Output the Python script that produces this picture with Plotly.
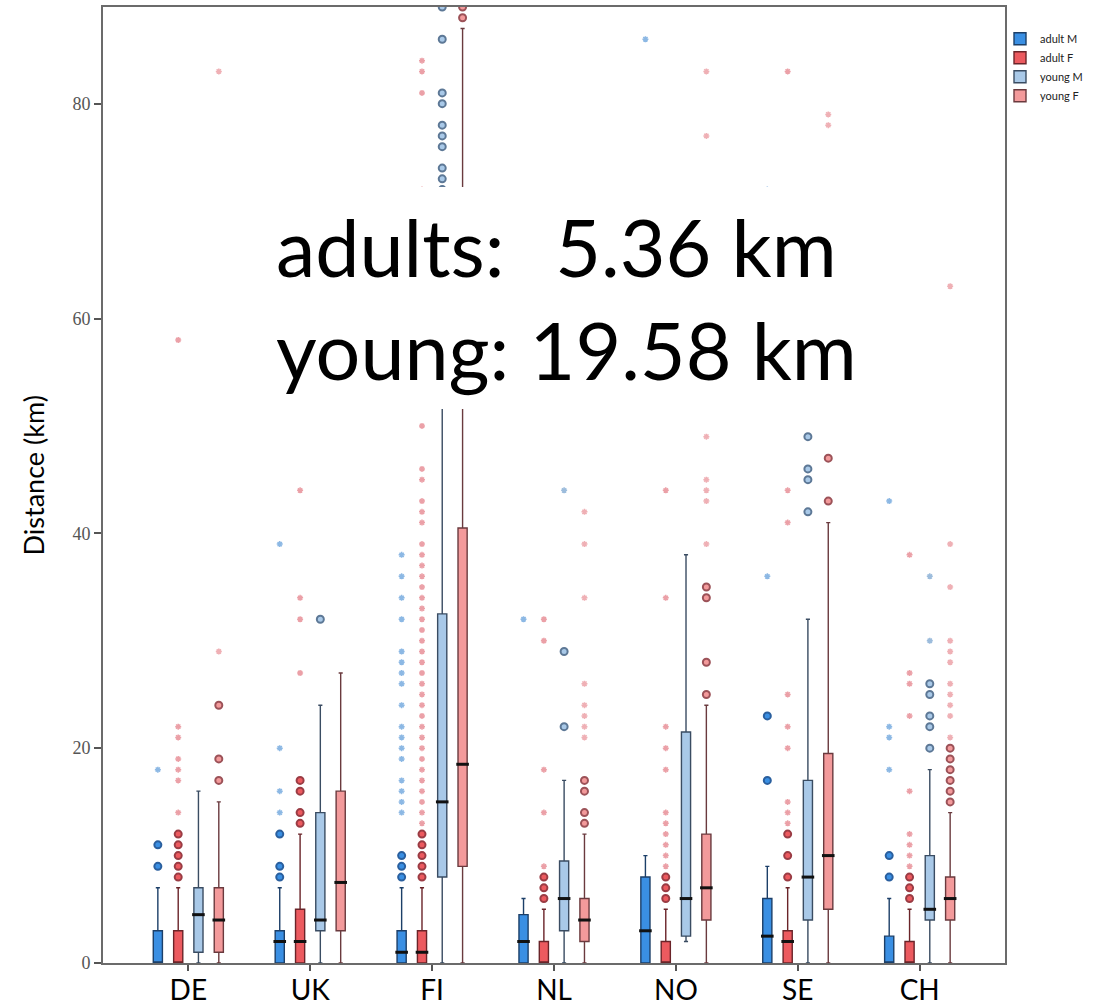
import plotly.graph_objects as go

countries = ["DE", "UK", "FI", "NL", "NO", "SE", "CH"]
groups = ["adult M", "adult F", "young M", "young F"]

# ---- adult M ----
adultM_q1 = [0, 0, 0, 0, 0, 0, 0]
adultM_med = [0, 2, 1, 2, 3, 2.5, 0]
adultM_q3 = [3, 3, 3, 4.5, 8, 6, 2.5]
adultM_lo = [0, 0, 0, 0, 0, 0, 0]
adultM_hi = [7, 7, 7, 6, 10, 9, 6]
adultM_out = [[11, 9], [12, 9, 8], [10, 9, 8], [], [], [17, 23], [10, 8]]
adultM_ext = [[18], [14, 16, 20, 39],
              [14, 15, 16, 17, 19, 20, 21, 22, 24, 26, 27, 28, 29, 32, 34, 36, 38],
              [32], [86], [36, 72], [18, 21, 22, 43]]

# ---- adult F ----
adultF_q1 = [0, 0, 0, 0, 0, 0, 0]
adultF_med = [0, 2, 1, 0, 0, 2, 0]
adultF_q3 = [3, 5, 3, 2, 2, 3, 2]
adultF_lo = [0, 0, 0, 0, 0, 0, 0]
adultF_hi = [7, 12, 7, 5, 5, 7, 5]
adultF_out = [[12, 11, 10, 9, 8], [17, 16, 14, 13], [12, 11, 10, 9, 8],
              [8, 7, 6], [8, 7, 6], [12, 10, 8], [8, 7, 6]]
adultF_ext = [[14, 17, 18, 19, 21, 22, 58], [27, 32, 34, 44],
              [13, 14, 15, 16, 17, 18, 19, 20, 21, 22, 23, 24, 25, 26, 27, 28, 29, 30,
               31, 32, 33, 34, 35, 36, 37, 38, 39, 41, 42, 43, 45, 46, 50, 72, 81, 83, 84],
              [9, 14, 18, 30, 32],
              [9, 10, 11, 12, 13, 14, 18, 20, 22, 34, 44],
              [13, 14, 15, 20, 22, 25, 41, 44, 83],
              [9, 10, 11, 12, 16, 23, 26, 27, 38]]

# ---- young M ----
youngM_q1 = [1, 3, 8, 3, 2.5, 4, 4]
youngM_med = [4.5, 4, 15, 6, 6, 8, 5]
youngM_q3 = [7, 14, 32.5, 9.5, 21.5, 17, 10]
youngM_lo = [0, 0, 0, 0, 2, 0, 0]
youngM_hi = [16, 24, 64, 17, 38, 32, 18]
youngM_out = [[], [32], [72, 73, 74, 76, 77, 78, 80, 81, 86, 89], [22, 29], [],
              [42, 45, 46, 49], [20, 22, 23, 25, 26]]
youngM_ext = [[], [], [], [44], [], [], [30, 36]]

# ---- young F ----
youngF_q1 = [1, 3, 9, 2, 4, 5, 4]
youngF_med = [4, 7.5, 18.5, 4, 7, 10, 6]
youngF_q3 = [7, 16, 40.5, 6, 12, 19.5, 8]
youngF_lo = [0, 0, 0, 0, 0, 0, 0]
youngF_hi = [15, 27, 87, 12, 24, 41, 14]
youngF_out = [[17, 19, 24], [], [88, 89], [13, 14, 16, 17], [25, 28, 34, 35],
              [43, 47], [15, 16, 17, 18, 19, 20]]
youngF_ext = [[29, 83], [], [], [21, 22, 23, 24, 26, 34, 39, 42],
              [39, 43, 44, 45, 49, 77, 83], [78, 79],
              [21, 23, 24, 25, 26, 28, 29, 30, 35, 39, 63]]

y_ticks = [0, 20, 40, 60, 80]
note_lines = ["adults:\u00a0\u00a0<span style='font-size:40px'>\u00a0</span>5.36 km",
              "young: 19.58 km"]

stats = {
    "adult M": (adultM_q1, adultM_med, adultM_q3, adultM_lo, adultM_hi, adultM_out, adultM_ext),
    "adult F": (adultF_q1, adultF_med, adultF_q3, adultF_lo, adultF_hi, adultF_out, adultF_ext),
    "young M": (youngM_q1, youngM_med, youngM_q3, youngM_lo, youngM_hi, youngM_out, youngM_ext),
    "young F": (youngF_q1, youngF_med, youngF_q3, youngF_lo, youngF_hi, youngF_out, youngF_ext),
}

# styles
offsets = {"adult M": -0.25, "adult F": -0.083, "young M": 0.083, "young F": 0.25}
fill = {"adult M": "#3a8fe3", "adult F": "#ec5a5f", "young M": "#a9c9e8", "young F": "#f39a9b"}
edge = {"adult M": "#1c3f68", "adult F": "#6a2429", "young M": "#3a4c62", "young F": "#6a3a3e"}
ring = {"adult M": "#2a5f9e", "adult F": "#9a3c44", "young M": "#5d7896", "young F": "#9c5258"}
star = {"adult M": "#8cb8e4", "adult F": "#eba0a7", "young M": "#9cbcdc", "young F": "#efb0b5"}
BOXW = 0.075

fig = go.Figure()

for g in groups:
    q1, med, q3, lo, hi, out, ext = stats[g]
    xpos = [i + offsets[g] for i in range(len(countries))]
    fig.add_trace(go.Box(
        x=xpos, q1=q1, median=med, q3=q3, lowerfence=lo, upperfence=hi,
        name=g, width=BOXW, fillcolor=fill[g],
        line=dict(color=edge[g], width=1.4), whiskerwidth=0.45,
        boxpoints=False, showlegend=True, hoverinfo="skip",
    ))

for g in groups:
    q1, med, q3, lo, hi, out, ext = stats[g]
    mx = [i + offsets[g] for i in range(len(countries)) if med[i] > q1[i]]
    my = [med[i] for i in range(len(countries)) if med[i] > q1[i]]
    fig.add_trace(go.Scatter(
        x=mx, y=my, mode="markers", showlegend=False, hoverinfo="skip",
        marker=dict(symbol="line-ew", size=9, line=dict(width=3, color="#111111")),
    ))
    ox, oy = [], []
    for i, vals in enumerate(out):
        ox += [i + offsets[g]] * len(vals)
        oy += vals
    fig.add_trace(go.Scatter(
        x=ox, y=oy, mode="markers", showlegend=False, hoverinfo="skip",
        marker=dict(symbol="circle", size=7, color=fill[g],
                    line=dict(width=2, color=ring[g])),
    ))
    ex, ey = [], []
    for i, vals in enumerate(ext):
        ex += [i + offsets[g]] * len(vals)
        ey += vals
    fig.add_trace(go.Scatter(
        x=ex, y=ey, mode="markers", showlegend=False, hoverinfo="skip",
        marker=dict(symbol="asterisk-open", size=5, color=star[g],
                    line=dict(width=1.5, color=star[g])),
    ))

# white overlay box with text
fig.add_shape(type="rect", xref="x domain", yref="y domain",
              x0=0.194, x1=0.85, y0=0.5795, y1=0.8117,
              fillcolor="white", line=dict(width=0), layer="above")
fig.add_annotation(xref="x domain", yref="y domain", x=0.19, y=0.696,
                   xanchor="left", yanchor="middle", align="left",
                   text="<br>".join(note_lines), showarrow=False,
                   font=dict(family="Lato", size=79, color="black"))

# y-axis title
fig.add_annotation(xref="x domain", yref="y domain", x=-0.0776, y=0.51,
                   xanchor="center", yanchor="middle", textangle=-90,
                   text="Distance (km)", showarrow=False,
                   font=dict(family="Lato", size=27, color="black"))

PLOT_W = 1099 - 103 - 0
fig.update_layout(
    width=1099, height=1005, autosize=False,
    margin=dict(l=103, r=0, t=7, b=42, pad=0),
    paper_bgcolor="white", plot_bgcolor="white",
    showlegend=True,
    legend=dict(x=(1000 - 103) / PLOT_W, y=0.982, xanchor="left", yanchor="top",
                font=dict(family="Lato", size=11, color="#222"),
                bgcolor="rgba(255,255,255,0)", tracegroupgap=0,
                itemwidth=30),
    xaxis=dict(domain=[0, (1005 - 103) / PLOT_W], automargin=False,
               range=[-0.7, 6.7], tickmode="array",
               tickvals=list(range(len(countries))), ticktext=countries,
               ticks="outside", ticklen=6, tickcolor="#555", tickwidth=1.5,
               ticklabelstandoff=-5,
               showline=True, linecolor="#6b6b6b", linewidth=2, mirror=True,
               showgrid=False, zeroline=False,
               tickfont=dict(family="Lato", size=28, color="black")),
    yaxis=dict(range=[0, 89], tickmode="array", tickvals=y_ticks, automargin=False,
               ticks="outside", ticklen=7, tickcolor="#555", tickwidth=1.5,
               showline=True, linecolor="#6b6b6b", linewidth=2, mirror=True,
               showgrid=False, zeroline=False,
               tickfont=dict(family="Liberation Serif", size=18, color="#555")),
)

fig.write_html("out.html", config={"displayModeBar": False},
               post_script="document.body.style.margin='0px';")
